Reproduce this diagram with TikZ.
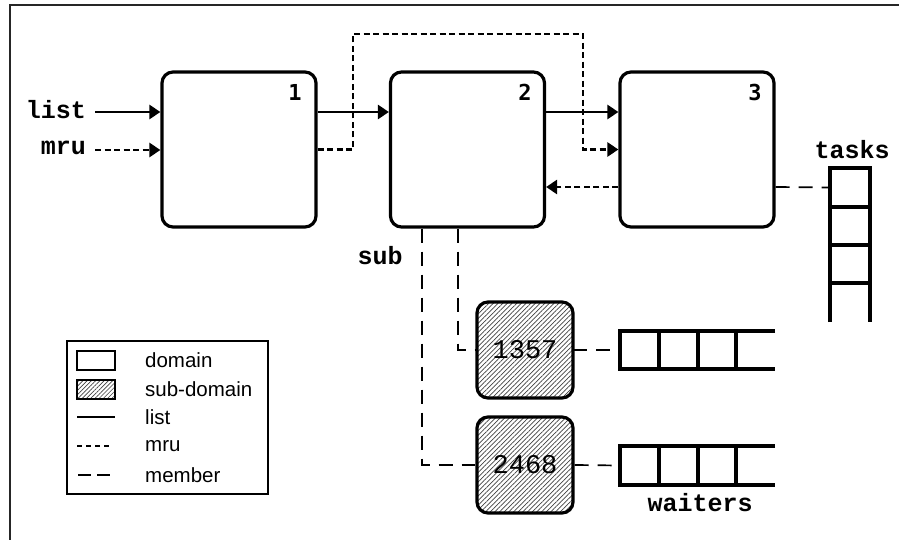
\documentclass[tikz,border=0pt]{standalone}
\usepackage{fontspec}
\setmainfont{Liberation Sans}
\setmonofont{Liberation Mono}
\newfontfamily\djmono{DejaVu Sans Mono}
\usetikzlibrary{arrows.meta,patterns.meta}
\tikzset{
  dombox/.style={draw,line width=3.2pt,rounded corners=11pt,inner sep=0pt,minimum width=154pt,minimum height=155pt},
  subbox/.style={draw,line width=3.2pt,rounded corners=11pt,inner sep=0pt,minimum width=96pt,minimum height=96pt,
    pattern={Lines[angle=45,distance=3.3pt,line width=0.7pt]},pattern color=black!75,font=\ttfamily\fontsize{27}{27}\selectfont},
  numlabel/.style={font=\djmono\bfseries\fontsize{22}{22}\selectfont,inner sep=0pt},
  monolabel/.style={font=\ttfamily\bfseries\fontsize{25}{25}\selectfont,inner sep=0pt},
  listline/.style={line width=2.6pt,-{Triangle[length=11pt,width=14pt]}},
  mruline/.style={line width=2.6pt,dash pattern=on 6pt off 3.5pt,-{Triangle[length=11pt,width=14pt]}},
  memberline/.style={line width=1.7pt,dash pattern=on 14pt off 9pt},
  cell/.style={inner sep=0pt,minimum width=39pt,minimum height=38.5pt},
  queue/.style={line width=3.2pt},
  legtext/.style={font=\fontsize{20.5}{20.5}\selectfont,anchor=west,inner sep=0pt},
}
\begin{document}
\begin{tikzpicture}[x=1pt,y=-1pt]
\useasboundingbox (0,0) rectangle (899,540);
% frame
\draw[line width=2.2pt,black!85] (10,540) -- (10,5) -- (899,5);

% domain boxes
\node[dombox] (b1) at (239,149.5) {};
\node[dombox] (b2) at (467.5,149.5) {};
\node[dombox] (b3) at (697,149.5) {};
\node[numlabel] (n1) at (295,92) {1};
\node[numlabel] (n2) at (525,92) {2};
\node[numlabel] (n3) at (755,92) {3};

% input labels
\node[monolabel,anchor=east] (list) at (86,110) {list};
\node[monolabel,anchor=east] (mru) at (86,148) {mru};
\coordinate (listend) at (95,112);
\coordinate (mruend) at (95,150);
\draw[listline] (listend) -- (b1.west |- listend);
\draw[mruline] (mruend) -- (b1.west |- mruend);

% list connectors
\draw[listline] ([yshift=37.5pt]b1.east) -- ([yshift=37.5pt]b2.west);
\draw[listline] ([yshift=37.5pt]b2.east) -- ([yshift=37.5pt]b3.west);

% mru connectors
\coordinate (m1) at (353,34);
\coordinate (m2) at (583,34);
\draw[mruline] (b1.east) -| (m1) -- (m2) |- (b3.west);
\draw[mruline] ([yshift=-37.5pt]b3.west) -- ([yshift=-37.5pt]b2.east);

% tasks stack
\node[monolabel] (tasks) at (852,150) {tasks};
\node[cell,minimum width=40pt] (t1) at (850,187.5) {};
\node[cell,minimum width=40pt] (t2) at (850,226) {};
\node[cell,minimum width=40pt] (t3) at (850,264) {};
\draw[queue] (830,322) -- (830,168) -- (870,168) -- (870,322);
\draw[queue] (830,207) -- (870,207);
\draw[queue] (830,245) -- (870,245);
\draw[queue] (830,283) -- (870,283);
\draw[memberline] ([yshift=-37.5pt]b3.east) -- (t1.west);

% sub-domains
\node[monolabel] (sub) at (380,256) {sub};
\node[subbox] (s1) at (525,350) {1357};
\node[subbox] (s2) at (525,465) {2468};
\draw[memberline] ([xshift=-9.5pt]b2.south) |- (s1.west);
\draw[memberline] ([xshift=-45.5pt]b2.south) |- (s2.west);

% waiter queues
\node[cell] (w1) at (639.5,350) {};
\node[cell] (w2) at (639.5,465.5) {};
\draw[queue] (775,331) -- (620,331) -- (620,369) -- (775,369);
\draw[queue] (659,331) -- (659,369);
\draw[queue] (698,331) -- (698,369);
\draw[queue] (736,331) -- (736,369);
\draw[queue] (775,446) -- (620,446) -- (620,485) -- (775,485);
\draw[queue] (659,446) -- (659,485);
\draw[queue] (698,446) -- (698,485);
\draw[queue] (736,446) -- (736,485);
\draw[memberline] (s1.east) -- (w1.west);
\draw[memberline] (s2.east) -- (w2.west);
\node[monolabel] (waiters) at (700,503) {waiters};

% legend
\node[draw,line width=1.5pt,inner sep=0pt,minimum width=201pt,minimum height=153pt] (legend) at (167.5,417.5) {};
\node[draw,line width=1.5pt,inner sep=0pt,minimum width=38pt,minimum height=19pt] (ld) at (96,360.5) {};
\node[draw,line width=1.5pt,inner sep=0pt,minimum width=38pt,minimum height=19pt,
  pattern={Lines[angle=45,distance=3pt,line width=0.6pt]},pattern color=black!75] (ls) at (96,389.5) {};
\coordinate (ll1) at (77,417);
\coordinate (ll2) at (115,417);
\draw[line width=2.4pt] (ll1) -- (ll2);
\coordinate (lm1) at (77,446);
\coordinate (lm2) at (111,446);
\draw[line width=2.4pt,dash pattern=on 5pt off 4pt] (lm1) -- (lm2);
\coordinate (le1) at (78,475);
\coordinate (le2) at (116,475);
\draw[line width=1.6pt,dash pattern=on 13pt off 6pt] (le1) -- (le2);
\node[legtext] (tdomain) at (145,360) {domain};
\node[legtext] (tsub) at (145,389) {sub-domain};
\node[legtext] (tlist) at (145,417) {list};
\node[legtext] (tmru) at (145,446) {mru};
\node[legtext] (tmember) at (145,475) {member};
\end{tikzpicture}
\end{document}
